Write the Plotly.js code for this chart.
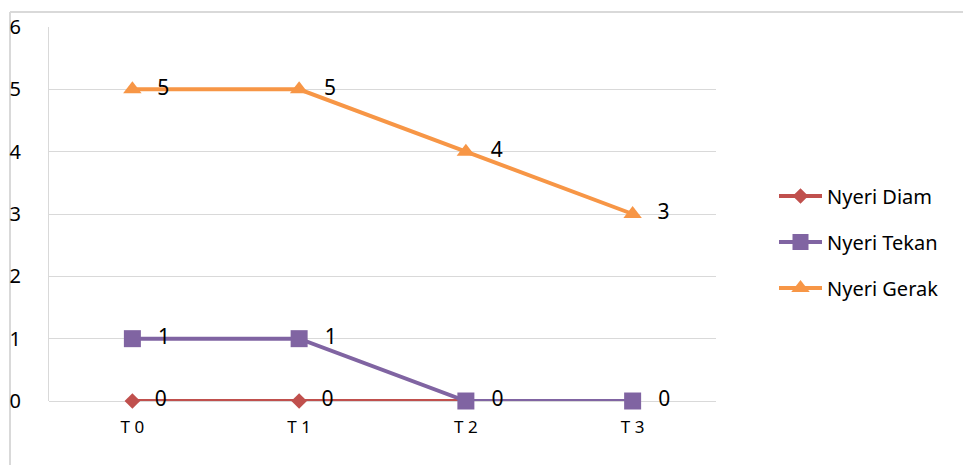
<!DOCTYPE html>
<html>
<head>
<meta charset="utf-8">
<script src="https://cdn.plot.ly/plotly-3.0.1.min.js"></script>
<style>body{margin:0;padding:0;background:#fff}</style>
</head>
<body>
<div id="chart" style="width:963px;height:465px"></div>
<script>
const categories = ["T 0", "T 1", "T 2", "T 3"];
const seriesNames = ["Nyeri Diam", "Nyeri Tekan", "Nyeri Gerak"];
const nyeriDiam = [0, 0, 0, 0];
const nyeriTekan = [1, 1, 0, 0];
const nyeriGerak = [5, 5, 4, 3];
const yTicks = [0, 1, 2, 3, 4, 5, 6];

const FONT = "Noto Sans, sans-serif";
const colors = ["#C0504D", "#8064A2", "#F79646"];
const symbols = ["diamond", "square", "triangle-up"];
const sizes = [12, 17, 16];
const allSeries = [nyeriDiam, nyeriTekan, nyeriGerak];

// A label hidden under an identical label of a later (upper) series is drawn once.
const labelFor = (i, j) => {
  const v = allSeries[i][j];
  for (let k = i + 1; k < allSeries.length; k++) {
    if (allSeries[k][j] === v) return "";
  }
  return "\u2002\u2009" + String(v);
};

const data = allSeries.map((vals, i) => ({
  type: "scatter",
  mode: "lines+markers+text",
  name: seriesNames[i],
  x: categories,
  y: vals,
  text: vals.map((v, j) => labelFor(i, j)),
  textposition: "middle right",
  textfont: {family: FONT, size: 21, color: "#000"},
  line: {color: colors[i], width: 4},
  marker: {color: colors[i], symbol: symbols[i], size: sizes[i]},
  legendgroup: "g" + i,
  cliponaxis: false
}));

const L = 49, R = 716, T = 27, B = 401, W = 963, H = 465;
const pw = R - L, ph = B - T;
const px = v => (v - L) / pw;
const py = v => (B - v) / ph;

const layout = {
  width: W, height: H,
  margin: {l: L, r: W - R, t: T, b: H - B, pad: 0},
  paper_bgcolor: "#fff", plot_bgcolor: "#fff",
  font: {family: FONT, color: "#000"},
  showlegend: true,
  legend: {
    x: px(774), y: py(242), xanchor: "left", yanchor: "middle",
    font: {family: FONT, size: 20, color: "#000"},
    tracegroupgap: 17, bgcolor: "rgba(0,0,0,0)", itemwidth: 43
  },
  xaxis: {
    type: "category", range: [-0.5, 3.5],
    showgrid: false, zeroline: false, showline: false,
    ticks: "", tickfont: {family: FONT, size: 17, color: "#000"},
    ticklabelstandoff: 14, fixedrange: true, automargin: false
  },
  yaxis: {
    range: [0, 6], tickvals: yTicks, ticktext: yTicks.map(String),
    showgrid: true, gridcolor: "#d9d9d9", gridwidth: 1,
    zeroline: true, zerolinecolor: "#d9d9d9", zerolinewidth: 1,
    showline: true, linecolor: "#d9d9d9", linewidth: 1,
    ticks: "", tickfont: {family: FONT, size: 20, color: "#000"},
    ticklabelstandoff: 23, fixedrange: true, automargin: false
  },
  shapes: [
    {type: "line", xref: "paper", yref: "paper", x0: px(10), x1: px(W), y0: py(12), y1: py(12), line: {color: "#d9d9d9", width: 2}, layer: "below"},
    {type: "line", xref: "paper", yref: "paper", x0: px(10), x1: px(10), y0: py(12), y1: py(H), line: {color: "#d9d9d9", width: 2}, layer: "below"}
  ]
};

Plotly.newPlot("chart", data, layout, {displayModeBar: false, staticPlot: true});
</script>
</body>
</html>
